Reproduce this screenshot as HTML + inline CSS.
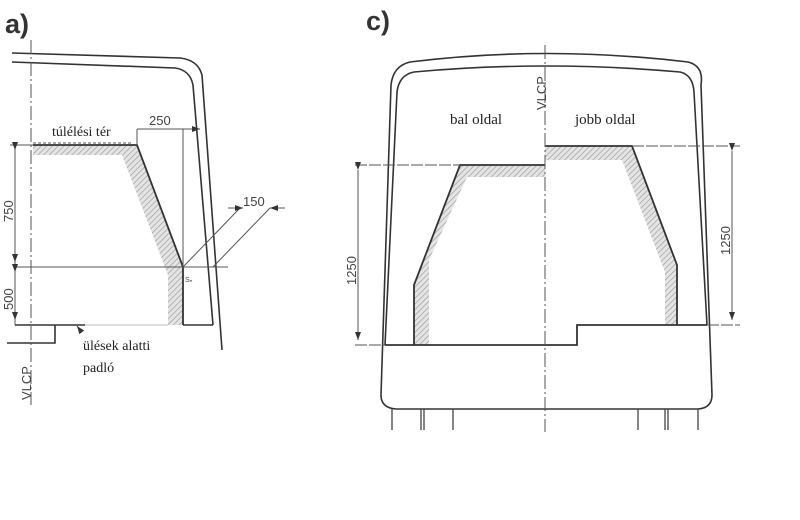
<!DOCTYPE html>
<html><head><meta charset="utf-8"><style>
html,body{margin:0;padding:0;background:#fff;}
svg{display:block;}
.s{font-family:"Liberation Sans",Arial,sans-serif;fill:#444;}
.t{font-family:"Liberation Serif",serif;fill:#222;}
</style></head><body>
<svg width="800" height="520" viewBox="0 0 800 520" xmlns="http://www.w3.org/2000/svg">
<defs>
<pattern id="h" width="4" height="4" patternUnits="userSpaceOnUse" patternTransform="rotate(45)">
<rect width="4" height="4" fill="#e4e4e4"/><line x1="0" y1="0" x2="0" y2="4" stroke="#999" stroke-width="1.3"/>
</pattern>
<marker id="ar" markerWidth="8" markerHeight="6" refX="8" refY="3" orient="auto"><path d="M0,0 L8,3 L0,6 z" fill="#333"/></marker>
</defs>
<g fill="none" stroke="#333" stroke-width="1.6">
<!-- panel a -->
<text x="5" y="33" class="s" style="font-size:27px;font-weight:bold;fill:#333;stroke:none">a)</text>
<path d="M12,53 L180,58 Q198,60 202,75 L222,350"/>
<path d="M12,62 L175,68 Q190,70 193,85 L213,325"/>
<path d="M33,145 L137,145 L183,267 L183,325 L168,325 L168,275 L122,155 L33,155 Z" fill="url(#h)" stroke="none"/>
<path d="M33,145 L137,145 L183,267 L183,325" stroke-width="1.8"/>
<path d="M15,325 L85,325 M183,325 L213,325" stroke-width="1.6"/>
<path d="M85,325 L168,325" stroke="#bbb" stroke-width="1"/>
<path d="M55,325 L55,343 L7,343"/>
<g stroke="#555" stroke-width="1">
<path d="M31,40 L31,405" stroke-dasharray="14,3,2,3"/>
<path d="M33,143 L132,143" stroke-dasharray="3,2"/>
<path d="M15,267 L228,267"/>
<path d="M183,129 L183,267"/>
<path d="M137,129 L137,145"/>
<path d="M137,129 L200,129" marker-end="url(#ar)"/>
<path d="M15,145 L15,325 M10,145 L33,145"/>
<path d="M15,150 L15,262" marker-start="url(#ar)" marker-end="url(#ar)"/>
<path d="M15,272 L15,320" marker-start="url(#ar)" marker-end="url(#ar)"/>
<path d="M183,267 L240,208 M213,267 L270,208"/>
<path d="M228,208 L243,208" marker-end="url(#ar)"/>
<path d="M285,208 L270,208" marker-end="url(#ar)"/>
<path d="M80,330 L77,326" marker-end="url(#ar)"/>
</g>
<text x="149" y="125" class="s" style="font-size:13px;stroke:none">250</text>
<text x="243" y="206" class="s" style="font-size:13px;stroke:none">150</text>
<text x="185" y="282" class="s" style="font-size:7px;stroke:none">Sₙ</text>
<text x="13" y="222" class="s" transform="rotate(-90 13 222)" style="font-size:13px;stroke:none">750</text>
<text x="13" y="310" class="s" transform="rotate(-90 13 310)" style="font-size:13px;stroke:none">500</text>
<text x="31" y="400" class="s" transform="rotate(-90 31 400)" style="font-size:13px;stroke:none">VLCP</text>
<text x="52" y="136" class="t" style="font-size:14px;stroke:none">túlélési tér</text>
<text x="83" y="350" class="t" style="font-size:14px;stroke:none">ülések alatti</text>
<text x="83" y="372" class="t" style="font-size:14px;stroke:none">padló</text>

<!-- panel c -->
<text x="366" y="30" class="s" style="font-size:27px;font-weight:bold;fill:#333;stroke:none">c)</text>
<path d="M381,395 L391,85 Q393,66 410,62 Q545,45 688,62 Q704,66 701,85 L712,395 Q712,408 698,409 L396,409 Q381,408 381,395 Z"/>
<path d="M385,345 L397,92 Q399,75 414,72 Q545,60 680,72 Q693,75 694,92 L707,325"/>
<path d="M460,165 L545,165 L545,177 L467,177 L429,260 L429,345 L414,345 L414,285 Z" fill="url(#h)" stroke="none"/>
<path d="M545,146 L632,146 L677,265 L677,325 L665,325 L665,272 L622,160 L545,160 Z" fill="url(#h)" stroke="none"/>
<path d="M545,165 L460,165 L414,285 L414,345" stroke-width="1.8"/>
<path d="M545,146 L632,146 L677,265 L677,325" stroke-width="1.8"/>
<path d="M385,345 L577,345 L577,325 L707,325" stroke-width="1.8"/>
<g stroke="#555" stroke-width="1">
<path d="M545,45 L545,432" stroke-dasharray="14,3,2,3"/>
<path d="M355,165 L460,165 M355,345 L385,345" stroke-dasharray="12,2"/>
<path d="M632,146 L740,146 M707,325 L740,325" stroke-dasharray="12,2"/>
<path d="M358,170 L358,340" marker-start="url(#ar)" marker-end="url(#ar)"/>
<path d="M732,151 L732,320" marker-start="url(#ar)" marker-end="url(#ar)"/>
</g>
<g stroke="#444" stroke-width="1.3">
<path d="M392,409 L392,430 M421,409 L421,430 M424,409 L424,430 M453,409 L453,430"/>
<path d="M638,409 L638,430 M665,409 L665,430 M668,409 L668,430 M698,409 L698,430"/>
</g>
<text x="546" y="110" class="s" transform="rotate(-90 546 110)" style="font-size:13px;stroke:none">VLCP</text>
<text x="356" y="285" class="s" transform="rotate(-90 356 285)" style="font-size:13px;stroke:none">1250</text>
<text x="730" y="255" class="s" transform="rotate(-90 730 255)" style="font-size:13px;stroke:none">1250</text>
<text x="450" y="124" class="t" style="font-size:15px;stroke:none">bal oldal</text>
<text x="575" y="124" class="t" style="font-size:15px;stroke:none">jobb oldal</text>
</g>
</svg>
</body></html>
